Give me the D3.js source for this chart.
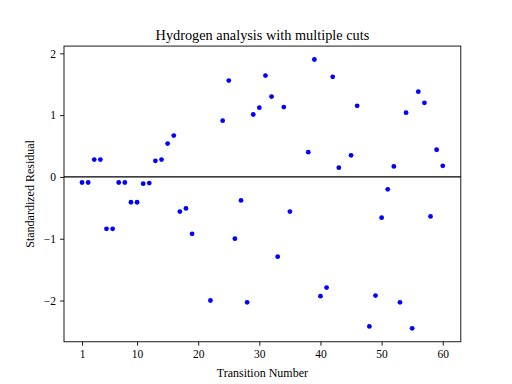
<!DOCTYPE html>
<html>
<head>
<meta charset="utf-8">
<script src="https://cdn.jsdelivr.net/npm/d3@7"></script>
<style>
  body { margin: 0; background: #fff; }
  text { font-family: "Liberation Serif", "DejaVu Serif", serif; fill: #000; }
</style>
</head>
<body>
<script>
var transitions = [1,2,3,4,5,6,7,8,9,10,11,12,13,14,15,16,17,18,19,22,24,25,26,27,28,29,30,31,32,33,34,35,38,39,40,41,42,43,45,46,48,49,50,51,52,53,54,55,56,57,58,59,60];
var residuals = [-0.09,-0.09,0.28,0.28,-0.84,-0.84,-0.09,-0.09,-0.41,-0.41,-0.11,-0.10,0.26,0.28,0.54,0.67,-0.56,-0.51,-0.92,-2.00,0.91,1.56,-1.00,-0.38,-2.03,1.01,1.12,1.64,1.30,-1.29,1.13,-0.56,0.40,1.90,-1.93,-1.79,1.62,0.15,0.35,1.15,-2.42,-1.92,-0.66,-0.20,0.17,-2.03,1.04,-2.45,1.38,1.20,-0.64,0.44,0.18];
var xTicks = [1,10,20,30,40,50,60];
var yTicks = [-2,-1,0,1,2];

var W = 512, H = 384;
var mLeft = 64, mRight = 460.8, mTop = 46.08, mBottom = 341.76;

var svg = d3.select("body").append("svg").attr("width", W).attr("height", H);

var data = transitions.map(function(t, i){ return {x: t, y: residuals[i]}; });

var xMin = d3.min(transitions), xMax = d3.max(transitions);
var yMin = d3.min(residuals), yMax = d3.max(residuals);
var xPad = (xMax - xMin) * 0.05, yPad = (yMax - yMin) * 0.05;

var x = d3.scaleLinear().domain([xMin - xPad, xMax + xPad]).range([mLeft, mRight]);
var y = d3.scaleLinear().domain([yMin - yPad, yMax + yPad]).range([mBottom, mTop]);

// zero line
svg.append("line")
    .attr("x1", mLeft).attr("x2", mRight)
    .attr("y1", y(0)).attr("y2", y(0))
    .attr("stroke", "#000").attr("stroke-width", 1.3);

svg.selectAll("circle")
    .data(data)
    .enter().append("circle")
        .attr("cx", function(d){ return x(d.x); })
        .attr("cy", function(d){ return y(d.y); })
        .attr("r", 2.4)
        .attr("fill", "#0000ff");

var fmt = function(d){ return d < 0 ? "\u2212" + Math.abs(d) : d; };

var xAxis = d3.axisBottom(x).tickValues(xTicks).tickSize(3.9).tickPadding(4).tickFormat(fmt);
var yAxis = d3.axisLeft(y).tickValues(yTicks).tickSize(3.9).tickPadding(4).tickFormat(fmt);

var gx = svg.append("g").attr("transform", "translate(0," + mBottom + ")").call(xAxis);
var gy = svg.append("g").attr("transform", "translate(" + mLeft + ",0)").call(yAxis);
[gx, gy].forEach(function(g){
    g.select(".domain").remove();
    g.selectAll(".tick line").attr("stroke", "#000").attr("stroke-width", 0.9);
    g.selectAll(".tick text").attr("font-family", "Liberation Serif").attr("font-size", 11.5).attr("fill", "#000");
});

// frame
svg.append("rect")
    .attr("x", mLeft).attr("y", mTop)
    .attr("width", mRight - mLeft).attr("height", mBottom - mTop)
    .attr("fill", "none").attr("stroke", "#000").attr("stroke-width", 0.9);

svg.append("text")
    .attr("x", (mLeft + mRight) / 2).attr("y", 40)
    .attr("text-anchor", "middle").attr("font-size", 14.3)
    .text("Hydrogen analysis with multiple cuts");

svg.append("text")
    .attr("x", (mLeft + mRight) / 2).attr("y", 377)
    .attr("text-anchor", "middle").attr("font-size", 12)
    .text("Transition Number");

svg.append("text")
    .attr("transform", "translate(34," + ((mTop + mBottom) / 2) + ") rotate(-90)")
    .attr("text-anchor", "middle").attr("font-size", 12)
    .text("Standardized Residual");
</script>
</body>
</html>
